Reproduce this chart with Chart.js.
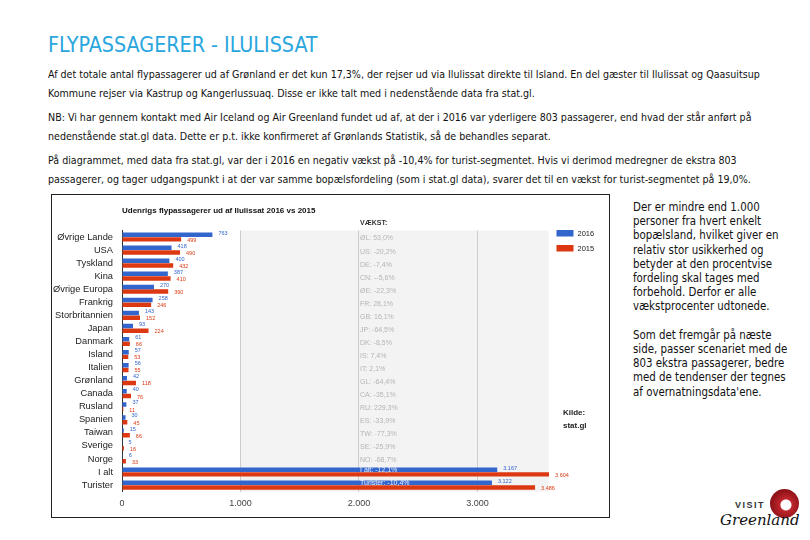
<!DOCTYPE html>
<html>
<head>
<meta charset="utf-8">
<script src="https://cdn.jsdelivr.net/npm/chart.js@4.4.1/dist/chart.umd.min.js"></script>
<style>
body{margin:0;background:#fff;width:810px;height:540px;overflow:hidden;position:relative;font-family:"Liberation Sans Narrow","DejaVu Sans Condensed",sans-serif;color:#111}
#title{position:absolute;left:48px;top:32px;font-size:21.3px;color:#2aa6de;white-space:nowrap}
.p{position:absolute;left:48px;font-size:10.6px;line-height:19px;white-space:nowrap}
#box{position:absolute;left:51px;top:194px;width:557px;height:322px;border:1px solid #222}
#side{position:absolute;left:633px;top:200px;font-size:11.4px;line-height:14.2px;white-space:nowrap}
#kilde{position:absolute;left:563px;top:406px;font:bold 8px "Liberation Sans",Arial,sans-serif;line-height:13px;color:#222}
.logo-circle{position:absolute;left:770px;top:489px;width:29px;height:29px;border-radius:50%;background:radial-gradient(circle at 55% 55%,#fff 0 5px,#c0262d 6px,#8e1218 15px)}
.logo-visit{position:absolute;left:735px;top:500px;font:bold 9px "Liberation Sans",Arial,sans-serif;letter-spacing:1.5px;color:#333}
.logo-gl{position:absolute;left:720px;top:511px;font:italic 15px "DejaVu Serif",serif;color:#111;white-space:nowrap}
</style>
</head>
<body>
<div id="title">FLYPASSAGERER - ILULISSAT</div>
<div class="p" style="top:65px">Af det totale antal flypassagerer ud af Grønland er det kun 17,3%, der rejser ud via Ilulissat direkte til Island. En del gæster til Ilulissat og Qaasuitsup<br>Kommune rejser via Kastrup og Kangerlussuaq. Disse er ikke talt med i nedenstående data fra stat.gl.</div>
<div class="p" style="top:108px">NB: Vi har gennem kontakt med Air Iceland og Air Greenland fundet ud af, at der i 2016 var yderligere 803 passagerer, end hvad der står anført på<br>nedenstående stat.gl data. Dette er p.t. ikke konfirmeret af Grønlands Statistik, så de behandles separat.</div>
<div class="p" style="top:151px">På diagrammet, med data fra stat.gl, var der i 2016 en negativ vækst på -10,4% for turist-segmentet. Hvis vi derimod medregner de ekstra 803<br>passagerer, og tager udgangspunkt i at der var samme bopælsfordeling (som i stat.gl data), svarer det til en vækst for turist-segmentet på 19,0%.</div>

<div id="box"><canvas id="flyChart" width="557" height="322"></canvas></div>
<div id="kilde">Kilde:<br>stat.gl</div>

<div id="side">Der er mindre end 1.000<br>personer fra hvert enkelt<br>bopælsland, hvilket giver en<br>relativ stor usikkerhed og<br>betyder at den procentvise<br>fordeling skal tages med<br>forbehold. Derfor er alle<br>vækstprocenter udtonede.<br><br>Som det fremgår på næste<br>side, passer scenariet med de<br>803 ekstra passagerer, bedre<br>med de tendenser der tegnes<br>af overnatningsdata'ene.</div>

<div class="logo-circle"></div>
<div class="logo-visit">VISIT</div>
<div class="logo-gl">Greenland</div>

<script>
// data
const categories = ['Øvrige Lande','USA','Tyskland','Kina','Øvrige Europa','Frankrig','Storbritannien','Japan','Danmark','Island','Italien','Grønland','Canada','Rusland','Spanien','Taiwan','Sverige','Norge','I alt','Turister'];
const pax2016 = [763,418,400,387,270,258,143,93,61,57,56,42,40,37,30,15,5,6,3167,3122];
const pax2015 = [499,490,432,410,390,246,152,224,66,53,55,118,76,11,45,66,16,33,3604,3486];
const growth = ['ØL: 53,0%','US: -20,2%','DE: -7,4%','CN: --5,6%','ØE: -22,3%','FR: 28,1%','GB: 16,1%','JP: -64,5%','DK: -8,5%','IS: 7,4%','IT: 2,1%','GL: -64,4%','CA: -35,1%','RU: 229,3%','ES: -33,9%','TW: -77,3%','SE: -25,9%','NO: -68,7%','I alt: -12,1%','Turister: -10,4%'];
const xTicks = [0,1000,2000,3000];

const blue = '#3366cc', red = '#dc3912';
const fmt = n => String(n).replace(/\B(?=(\d{3})+(?!\d))/g,'.');

//extras: gray box, title, labels, legend
const extras = {
  id:'extras',
  beforeDraw(chart){
    const {ctx,chartArea:a,scales:{x}} = chart;
    ctx.save();
    ctx.fillStyle='#f3f3f3';
    const x1=x.getPixelForValue(1000), x2=x.getPixelForValue(3600);
    ctx.fillRect(x1,a.top,x2-x1,a.bottom-a.top);
    ctx.restore();
  },
  afterDatasetsDraw(chart){
    const {ctx,chartArea:a,scales:{x,y}} = chart;
    ctx.save();
    // title
    ctx.fillStyle='#111';
    ctx.font='bold 8px "Liberation Sans", Arial, sans-serif';
    ctx.textBaseline='middle';
    ctx.fillText('Udenrigs flypassagerer ud af Ilulissat 2016 vs 2015',a.left,16);
    // value labels
    ctx.font='5.5px "Liberation Sans", Arial, sans-serif';
    chart.data.datasets.forEach((ds,di)=>{
      const meta=chart.getDatasetMeta(di);
      ctx.fillStyle=ds.backgroundColor;
      meta.data.forEach((el,i)=>{
        ctx.fillText(fmt(ds.data[i]),el.x+6,el.y+(di===0?-1.5:1));
      });
    });
    // growth column
    const gx=x.getPixelForValue(2000)+1;
    ctx.font='bold 7px "Liberation Sans", Arial, sans-serif';
    ctx.fillStyle='#333';
    ctx.fillText('VÆKST:',gx,a.top-7.5);
    ctx.font='7px "Liberation Sans", Arial, sans-serif';
    growth.forEach((g,i)=>{
      const big = i>=18;
      ctx.fillStyle = big ? '#e8ecf8' : '#b5b5b5';
      ctx.fillText(g,gx,y.getPixelForValue(i)+(big?-2:1.5));
    });
    // legend
    ctx.font='7.5px "Liberation Sans", Arial, sans-serif';
    chart.data.datasets.forEach((ds,di)=>{
      const ly=35+di*15;
      ctx.fillStyle=ds.backgroundColor;
      ctx.fillRect(504.5,ly,17,6.5);
      ctx.fillStyle='#222';
      ctx.fillText(ds.label,525.5,ly+3.5);
    });
    ctx.restore();
  }
};

new Chart(document.getElementById('flyChart'),{
  type:'bar',
  data:{
    labels:categories,
    datasets:[
      {label:'2016',data:pax2016,backgroundColor:blue,categoryPercentage:0.72,barPercentage:0.95},
      {label:'2015',data:pax2015,backgroundColor:red,categoryPercentage:0.72,barPercentage:0.95}
    ]
  },
  options:{
    indexAxis:'y',
    responsive:false,
    animation:false,
    layout:{padding:{top:35.5,right:54.5,bottom:0,left:0}},
    plugins:{legend:{display:false},tooltip:{enabled:false}},
    scales:{
      x:{
        min:0,max:3650,
        afterBuildTicks:s=>{s.ticks=xTicks.map(v=>({value:v}));},
        afterFit:s=>{s.height=25.4;},
        grid:{color:'#cccccc',drawTicks:false},
        border:{display:false},
        ticks:{padding:7,color:'#444',font:{family:'"Liberation Sans", Arial, sans-serif',size:9},callback:v=>fmt(v)}
      },
      y:{
        afterFit:s=>{s.width=70;},
        grid:{display:false,drawTicks:false},
        border:{display:true,color:'#333',width:1},
        ticks:{padding:9,color:'#222',autoSkip:false,font:{family:'"Liberation Sans", Arial, sans-serif',size:9.3}}
      }
    }
  },
  plugins:[extras]
});
</script>
</body>
</html>
